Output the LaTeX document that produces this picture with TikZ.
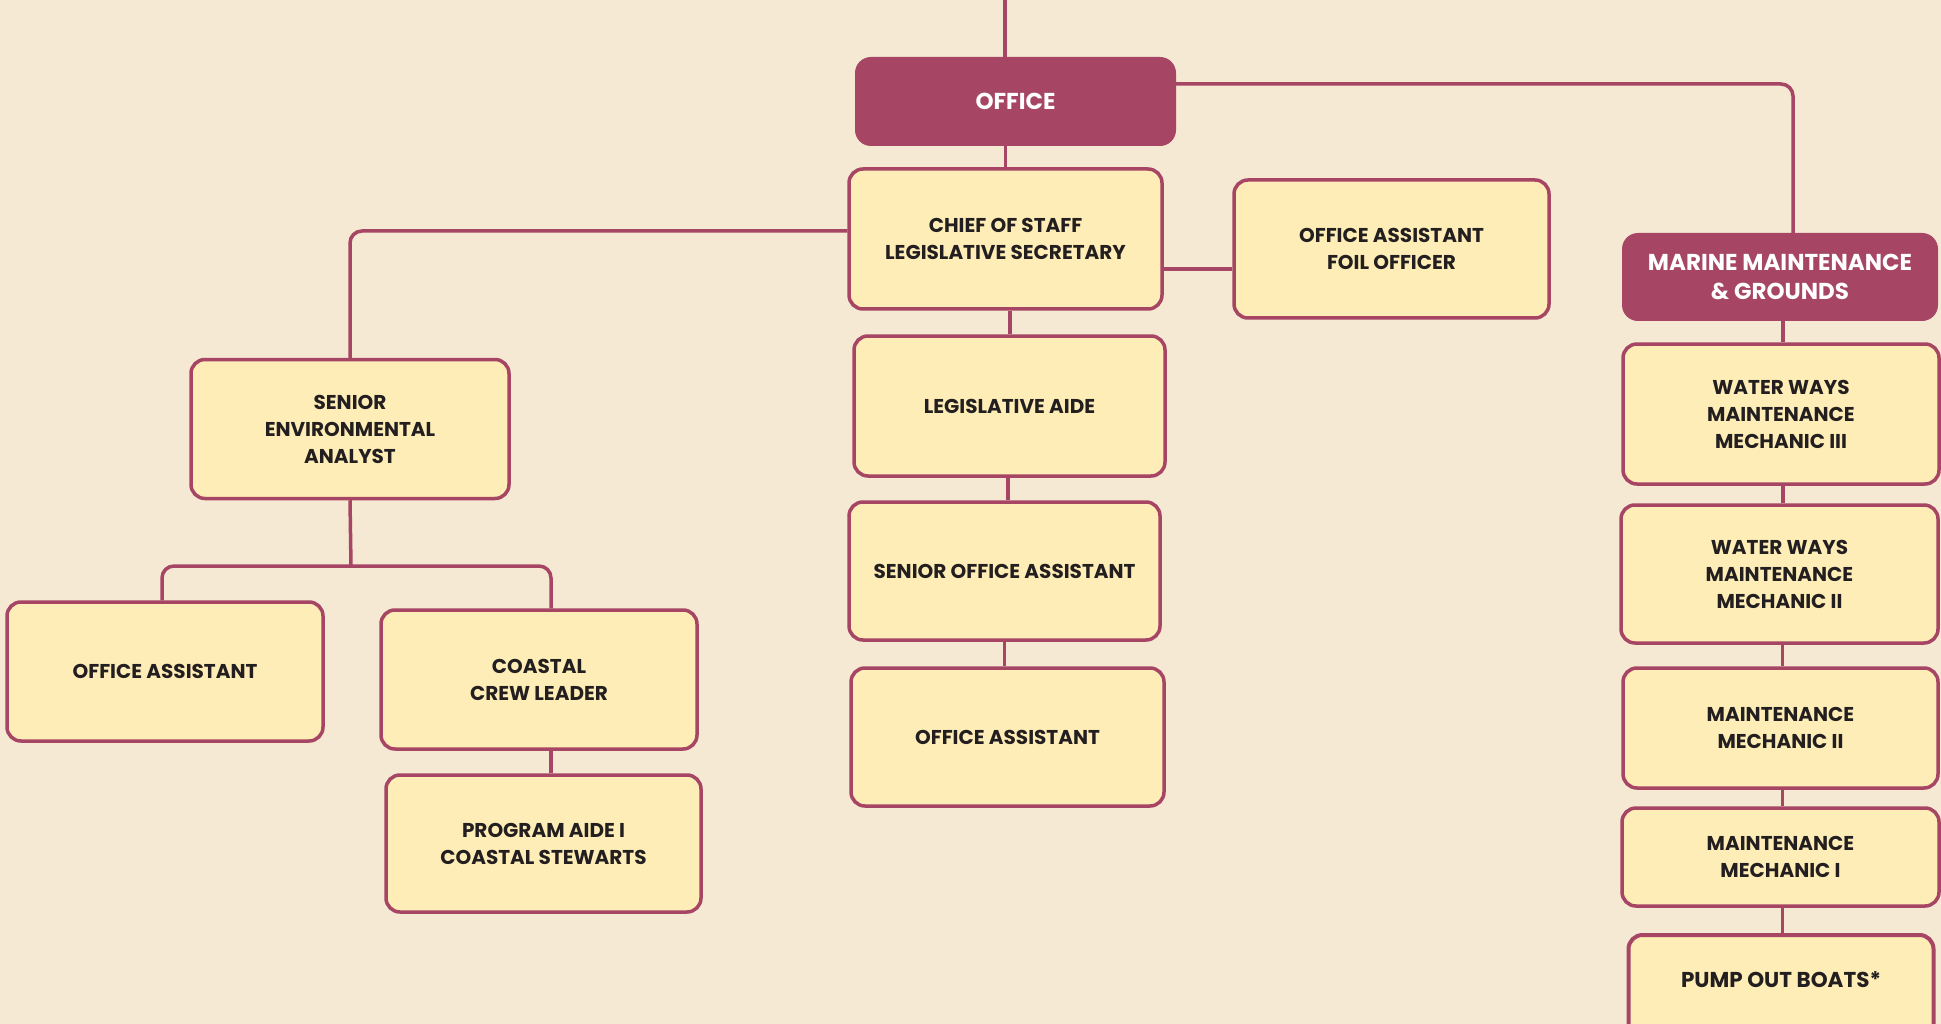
\documentclass[tikz,border=0pt]{standalone}
\usepackage{fontspec}
\setmainfont{Poppins}
\usepackage{tikz}
\definecolor{tlo}{HTML}{F5E9D3}
\definecolor{zolty}{HTML}{FEEDB6}
\definecolor{bordo}{HTML}{A64564}
\definecolor{napis}{HTML}{231F20}

\begin{document}
\begin{tikzpicture}[x=1pt, y=-1pt,
  box/.style={draw=bordo, line width=3.5pt, fill=zolty, rounded corners=14pt, align=center,
    text=napis, font=\fontsize{20}{27}\selectfont\bfseries, inner sep=0pt},
  head/.style={fill=bordo, rounded corners=16pt, align=center, text=white,
    font=\fontsize{23}{29}\selectfont\bfseries, inner sep=0pt},
  link/.style={draw=bordo, line width=3.5pt, rounded corners=12pt}]
  \fill[tlo] (0,0) rectangle (1941,1024); % tlo
  \useasboundingbox (0,0) rectangle (1941,1024);

  \node[head, minimum width=321, minimum height=89] (office) at (1015.5,101.5) {OFFICE};
  \node[head, minimum width=316, minimum height=88] (marine) at (1780,277) {MARINE MAINTENANCE\\\& GROUNDS};

  % srodek
  \node[box, minimum width=313, minimum height=140] (chief) at (1005.5,239) {CHIEF OF STAFF\\LEGISLATIVE SECRETARY};
  \node[box, minimum width=315, minimum height=138] (foil) at (1391.5,249) {OFFICE ASSISTANT\\FOIL OFFICER};
  \node[box, minimum width=311, minimum height=140] (legaide) at (1009.5,406) {LEGISLATIVE AIDE};
  \node[box, minimum width=311, minimum height=138] (soa) at (1004.5,571) {SENIOR OFFICE ASSISTANT};
  \node[box, minimum width=313, minimum height=138] (oaright) at (1007.5,737) {OFFICE ASSISTANT};

  % lewa strona
  \node[box, minimum width=318, minimum height=139] (senior) at (350,429) {SENIOR\\ENVIRONMENTAL\\ANALYST};
  \node[box, minimum width=316, minimum height=139] (oaleft) at (165,671.5) {OFFICE ASSISTANT};
  \node[box, minimum width=316, minimum height=139] (coastal) at (539,679.5) {COASTAL\\CREW LEADER};
  \node[box, minimum width=315, minimum height=137] (program) at (543.5,843.5) {PROGRAM AIDE I\\COASTAL STEWARTS};

  % prawa strona
  \node[box, minimum width=316, minimum height=140] (ww3) at (1781,414) {WATER WAYS\\MAINTENANCE\\MECHANIC III};
  \node[box, minimum width=317, minimum height=138] (ww2) at (1779.5,574) {WATER WAYS\\MAINTENANCE\\MECHANIC II};
  \node[box, minimum width=315, minimum height=120] (mm2) at (1780.5,728) {MAINTENANCE\\MECHANIC II};
  \node[box, minimum width=317, minimum height=98] (mm1) at (1780.5,857) {MAINTENANCE\\MECHANIC I};
  \node[box, line width=4pt, minimum width=305, minimum height=110, text height=15pt, text depth=21pt,
    font=\fontsize{21.5}{27}\selectfont\bfseries] (pump) at (1781,990) {PUMP OUT BOATS*}; % ucieta u dolu

  % polaczenia
  \coordinate (top) at (1005,0);
  \coordinate (split) at (351,566);
  \draw[link] (top) -- (top |- office.north);
  \draw[link] (office.south -| chief.north) -- (chief.north);
  \draw[link] ([yshift=17.5]office.east) -| ([xshift=13]marine.north);
  \draw[link] ([yshift=8]chief.west) -| (senior.north);
  \draw[link] ([yshift=-30]chief.east) -- ([yshift=-30]chief.east -| foil.west);
  \draw[link] ([xshift=4.5]chief.south) -- ([xshift=4.5]chief.south |- legaide.north);
  \draw[link] ([xshift=-1.5]legaide.south) -- ([xshift=-1.5]legaide.south |- soa.north);
  \draw[link] (soa.south) -- (soa.south |- oaright.north);

  \draw[link] (senior.south) -- (split);
  \draw[link] ([xshift=-3]oaleft.north) |- (split) -| ([xshift=12]coastal.north);
  \draw[link] ([xshift=12]coastal.south) -- ([xshift=12]coastal.south |- program.north);

  \draw[link] ([xshift=3]marine.south) -- ([xshift=3]marine.south |- ww3.north);
  \draw[link] ([xshift=2]ww3.south) -- ([xshift=2]ww3.south |- ww2.north);
  \draw[link] ([xshift=3]ww2.south) -- ([xshift=3]ww2.south |- mm2.north);
  \draw[link] ([xshift=2]mm2.south) -- ([xshift=2]mm2.south |- mm1.north);
  \draw[link] ([xshift=2]mm1.south) -- ([xshift=2]mm1.south |- pump.north);
\end{tikzpicture}
\end{document}
